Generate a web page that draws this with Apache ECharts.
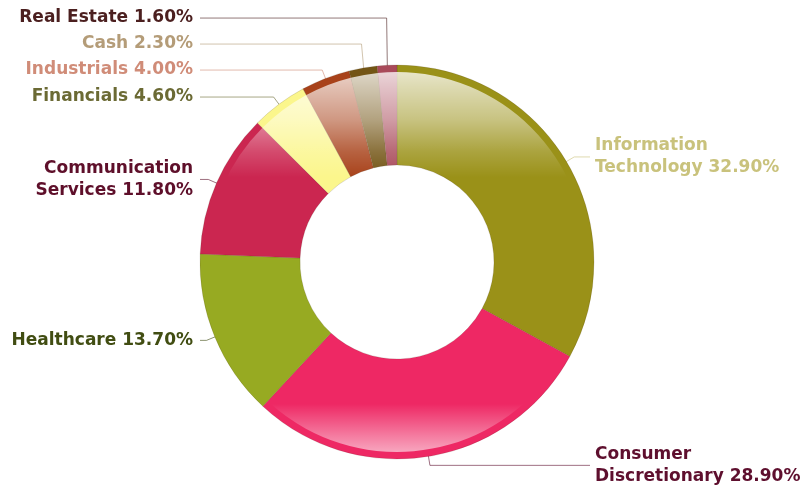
<!DOCTYPE html>
<html>
<head>
<meta charset="utf-8">
<script src="https://cdn.jsdelivr.net/npm/echarts@6/dist/echarts.min.js"></script>
<style>
  html, body { margin: 0; padding: 0; background: #ffffff; }
  #chart { width: 811px; height: 487px; }
</style>
</head>
<body>
<div id="chart"></div>
<script>
// Sector weights of the portfolio, clockwise from 12 o'clock
const sectors = ['Information Technology', 'Consumer Discretionary', 'Healthcare', 'Communication Services',
                 'Financials', 'Industrials', 'Cash', 'Real Estate'];
const weights = [32.9, 28.9, 13.7, 11.8, 4.6, 4.0, 2.3, 1.6];
const sliceColors = ['#9a9118', '#ee2864', '#97aa22', '#cb2650', '#fbf68c', '#a8421a', '#735515', '#a94a5a'];
const labelColors = ['#c9c27c', '#5e0f2e', '#414d12', '#5e0f2a', '#6b6a34', '#d08c78', '#b49c78', '#4b1f1f'];

const CX = 397, CY = 262;        // ring centre
const R_OUT = 197, R_IN = 97;    // ring radii
const R_GLOSS = 190;             // glossy layer stops short of the rim
const LEAD = 16;                 // first leader segment
const LINE_H = 22, GAP = 4;      // label line height and spacing

const chart = echarts.init(document.getElementById('chart'), null, { renderer: 'canvas' });

// white sheen at the top and bottom of the ring
const gloss = {
  type: 'linear', global: true,
  x: 0, y: CY - R_OUT, x2: 0, y2: CY + R_OUT,
  colorStops: [
    { offset: 0.00, color: 'rgba(255,255,255,0.82)' },
    { offset: 0.05, color: 'rgba(255,255,255,0.68)' },
    { offset: 0.14, color: 'rgba(255,255,255,0.45)' },
    { offset: 0.22, color: 'rgba(255,255,255,0.17)' },
    { offset: 0.285, color: 'rgba(255,255,255,0.0)' },
    { offset: 0.86, color: 'rgba(255,255,255,0.0)' },
    { offset: 0.985, color: 'rgba(255,255,255,0.6)' },
    { offset: 1.00, color: 'rgba(255,255,255,0.6)' }
  ]
};

function labelText(p) {
  const name = p.name.length > 15 ? p.name.replace(' ', '\n') : p.name;
  return name + ' ' + p.value.toFixed(2) + '%';
}

function withAlpha(hex, a) {
  const n = parseInt(hex.slice(1), 16);
  return 'rgba(' + (n >> 16) + ',' + ((n >> 8) & 255) + ',' + (n & 255) + ',' + a + ')';
}

// leader geometry: start on the slice at its mid angle, bend, then run flat to the label
const total = weights.reduce((a, b) => a + b, 0);
const spots = [];
let acc = 0;
weights.forEach((w, i) => {
  const mid = (acc + w / 2) / total * 2 * Math.PI;
  acc += w;
  const dx = Math.sin(mid), dy = -Math.cos(mid);
  const sx = CX + R_GLOSS * dx, sy = CY + R_GLOSS * dy;
  const lines = labelText({ name: sectors[i], value: weights[i] }).split('\n').length;
  spots.push({ dx, dy, sx, sy, bx: sx + dx * LEAD, y: sy + dy * LEAD, h: lines * LINE_H, left: dx < 0 });
});
// push crowded labels upward, one side at a time
[true, false].forEach(side => {
  const list = spots.filter(s => s.left === side).sort((a, b) => b.y - a.y);
  for (let k = 1; k < list.length; k++) {
    const prev = list[k - 1], cur = list[k];
    cur.y = Math.min(cur.y, prev.y - (prev.h + cur.h) / 2 - GAP);
  }
});

chart.setOption({
  animation: false,
  backgroundColor: '#ffffff',
  series: [
    {
      type: 'pie',
      name: 'base',
      center: [CX, CY],
      radius: [R_IN, R_OUT],
      startAngle: 90,
      clockwise: true,
      silent: true,
      label: { show: false },
      labelLine: { show: false },
      itemStyle: { borderWidth: 0.6, borderColor: 'rgba(60,40,20,0.25)' },
      data: sectors.map((name, i) => ({ name, value: weights[i], itemStyle: { color: sliceColors[i] } }))
    },
    {
      type: 'pie',
      name: 'gloss',
      center: [CX, CY],
      radius: [R_IN, R_GLOSS],
      startAngle: 90,
      clockwise: true,
      silent: true,
      avoidLabelOverlap: false,
      itemStyle: { color: gloss, borderWidth: 0 },
      label: {
        show: true,
        position: 'outside',
        fontFamily: 'DejaVu Sans',
        fontWeight: 'bold',
        fontSize: 17,
        lineHeight: LINE_H,
        formatter: labelText
      },
      labelLine: { show: true, length: LEAD, length2: 6, lineStyle: { width: 1 } },
      labelLayout: function (p) {
        const s = spots[p.dataIndex];
        const endX = s.left ? CX - R_OUT : CX + R_OUT - 4;
        return {
          x: s.left ? endX - 7 : endX + 5,
          y: s.y,
          align: s.left ? 'right' : 'left',
          verticalAlign: 'middle',
          labelLinePoints: [[s.sx, s.sy], [s.bx, s.y], [endX, s.y]]
        };
      },
      data: sectors.map((name, i) => ({
        name,
        value: weights[i],
        label: { color: labelColors[i] },
        labelLine: { lineStyle: { color: withAlpha(labelColors[i], 0.6) } }
      }))
    }
  ]
});
</script>
</body>
</html>
